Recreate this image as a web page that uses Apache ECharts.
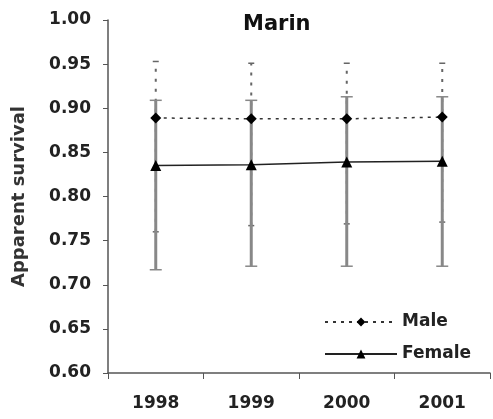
<!DOCTYPE html>
<html>
<head>
<meta charset="utf-8">
<script src="https://cdn.jsdelivr.net/npm/echarts@6/dist/echarts.min.js"></script>
<style>
html, body { margin: 0; padding: 0; background: #fff; }
#chart { width: 493px; height: 419px; }
</style>
</head>
<body>
<div id="chart"></div>
<script>
const years = ['1998', '1999', '2000', '2001'];
const maleMean = [0.889, 0.888, 0.888, 0.890];
const maleLow = [0.760, 0.767, 0.769, 0.771];
const maleHigh = [0.953, 0.951, 0.951, 0.951];
const femaleMean = [0.835, 0.836, 0.839, 0.840];
const femaleLow = [0.717, 0.721, 0.721, 0.721];
const femaleHigh = [0.909, 0.909, 0.913, 0.913];

const chart = echarts.init(document.getElementById('chart'));
const font = 'DejaVu Sans, sans-serif';

// error bar drawn as a vertical line with caps
function errorBar(capHalf, style) {
	return function (params, api) {
		const x = api.value(0);
		const lo = api.coord([x, api.value(1)]);
		const hi = api.coord([x, api.value(2)]);
		const cap = { stroke: style.stroke, lineWidth: 1.5 };
		return {
			type: 'group',
			children: [
				{ type: 'line', shape: { x1: lo[0], y1: lo[1], x2: hi[0], y2: hi[1] }, style: style },
				{ type: 'line', shape: { x1: lo[0] - capHalf, y1: lo[1], x2: lo[0] + capHalf, y2: lo[1] }, style: cap },
				{ type: 'line', shape: { x1: hi[0] - capHalf, y1: hi[1], x2: hi[0] + capHalf, y2: hi[1] }, style: cap }
			]
		};
	};
}

const option = {
	animation: false,
	title: {
		text: 'Marin',
		left: 238,
		top: 9,
		textStyle: { fontFamily: font, fontSize: 21, fontWeight: 'bold', color: '#111' }
	},
	grid: { left: 108, right: 3, top: 20, bottom: 46 },
	legend: {
		orient: 'vertical',
		left: 319,
		top: 307,
		itemWidth: 72,
		itemHeight: 11,
		itemGap: 12,
		textStyle: { fontFamily: font, fontSize: 17, fontWeight: 'bold', color: '#222', lineHeight: 20 },
		data: ['Male', 'Female']
	},
	xAxis: {
		type: 'category',
		data: years,
		boundaryGap: true,
		axisLine: { lineStyle: { color: '#555', width: 1.5 } },
		axisTick: { show: true, length: 6, lineStyle: { color: '#555' } },
		axisLabel: { fontFamily: font, fontSize: 17, fontWeight: 'bold', color: '#222', margin: 22 }
	},
	yAxis: {
		type: 'value',
		min: 0.6,
		max: 1.0,
		interval: 0.05,
		name: 'Apparent survival',
		nameLocation: 'middle',
		nameGap: 80,
		nameTextStyle: { fontFamily: font, fontSize: 18, fontWeight: 'bold', color: '#333' },
		splitLine: { show: false },
		axisLine: { show: true, lineStyle: { color: '#555', width: 1.5 } },
		axisTick: { show: true, length: 5, lineStyle: { color: '#555' } },
		axisLabel: {
			fontFamily: font, fontSize: 17, fontWeight: 'bold', color: '#222', margin: 17,
			formatter: v => v.toFixed(2)
		}
	},
	series: [
		{
			name: 'MaleCI',
			type: 'custom',
			z: 1,
			data: years.map((y, i) => [i, maleLow[i], maleHigh[i]]),
			renderItem: errorBar(3, { stroke: '#666', lineWidth: 2, lineDash: [3, 7] })
		},
		{
			name: 'FemaleCI',
			type: 'custom',
			z: 2,
			data: years.map((y, i) => [i, femaleLow[i], femaleHigh[i]]),
			renderItem: errorBar(6, { stroke: '#888', lineWidth: 3 })
		},
		{
			name: 'Male',
			type: 'line',
			z: 3,
			data: maleMean,
			symbol: 'diamond',
			symbolSize: 11,
			itemStyle: { color: '#000' },
			lineStyle: { color: '#333', width: 1.5, type: [3, 5] }
		},
		{
			name: 'Female',
			type: 'line',
			z: 3,
			data: femaleMean,
			symbol: 'triangle',
			symbolSize: 11,
			itemStyle: { color: '#000' },
			lineStyle: { color: '#222', width: 1.5 }
		}
	]
};

chart.setOption(option);
</script>
</body>
</html>
